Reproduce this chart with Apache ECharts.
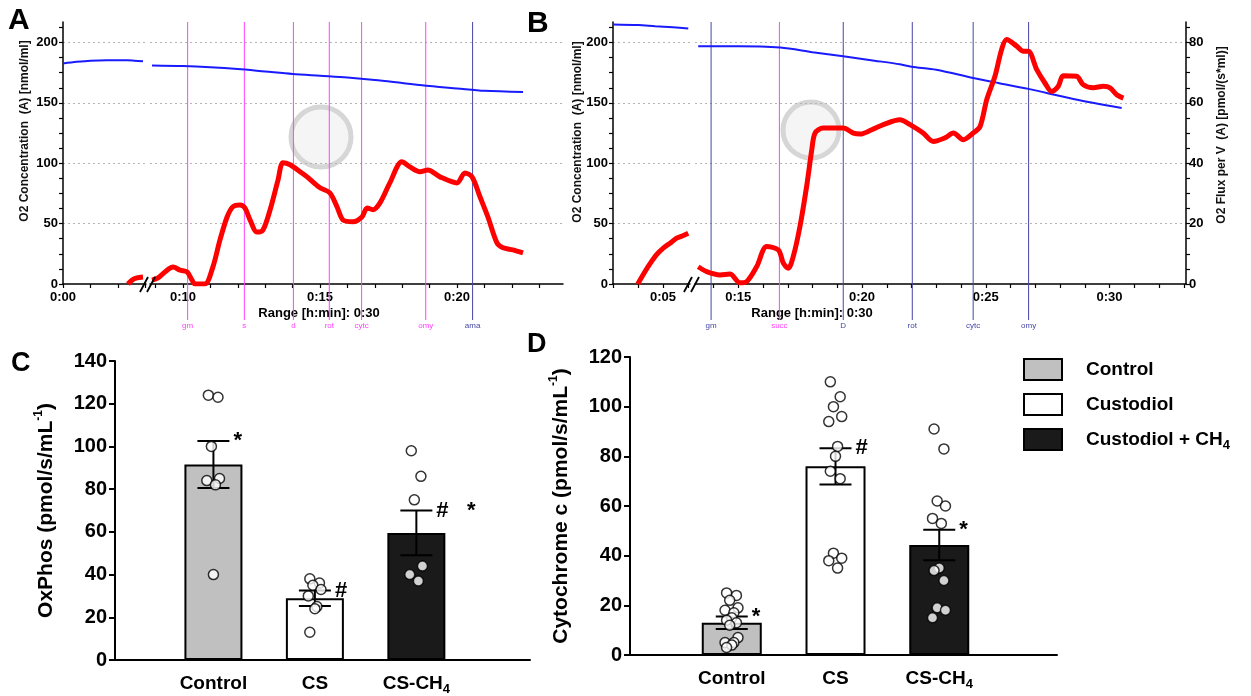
<!DOCTYPE html>
<html>
<head>
<meta charset="utf-8">
<title>OxPhos and cytochrome c</title>
<script src="https://cdn.jsdelivr.net/npm/echarts@6.0.0/dist/echarts.min.js"></script>
<style>
html, body { margin: 0; padding: 0; background: #fff; }
#main { width: 1251px; height: 696px; }
</style>
</head>
<body>
<div id="main"></div>
<script>
var FONT = '"Liberation Sans", Arial, sans-serif';

// ---- panel A: oxygraph trace (time in min) ----
var aBlueLeftT = [0, 0.5, 1.0, 1.6, 2.34, 2.6, 2.92];
var aBlueLeftV = [182.6, 184, 185, 185.3, 185.3, 185, 184.5];
var aRedLeftT = [2.37, 2.52, 2.7, 2.92];
var aRedLeftV = [0, 1.3, 2.0, 2.3];
var aBlueT = [8.87, 10, 11, 12, 13, 14, 15, 16, 17, 18, 19, 20, 21, 22.41];
var aBlueV = [181, 180.5, 179.5, 178, 176, 174, 172.5, 171, 169, 166.5, 164, 162, 160, 159];
var aRedT = [8.87, 9.09, 9.34, 9.64, 9.89, 10.15, 10.33, 10.44, 10.80, 11.09, 11.35, 11.61, 11.82, 12.08, 12.26, 12.45,
    12.70, 12.92, 13.18, 13.47, 13.65, 13.91, 14.27, 14.53, 15.00, 15.36, 15.62, 15.84, 16.20, 16.53, 16.72, 16.93,
    17.19, 17.55, 17.99, 18.28, 18.65, 18.94, 19.38, 20.00, 20.29, 20.55, 20.84, 21.13, 21.46, 21.68, 22.04, 22.41];
var aRedV = [1.3, 2.0, 4.0, 5.6, 4.6, 4.0, 1.3, 0, 0, 5.6, 14.6, 22.2, 25.6, 26.2, 25.2, 21.2,
    17.2, 17.9, 24.6, 34.5, 40.2, 39.5, 37.2, 35.5, 31.9, 30.2, 25.6, 21.2, 20.6, 22.2, 25.2, 24.6,
    26.9, 33.5, 40.5, 38.8, 37.2, 37.8, 35.5, 33.5, 36.8, 35.5, 28.9, 22.2, 13.6, 12.0, 11.3, 10.3];
var aMarkNames = ['gm', 's', 'd', 'rot', 'cytc', 'omy', 'ama'];
var aMarkTimes = [10.17, 12.24, 14.03, 15.34, 16.52, 18.86, 20.57];

// ---- panel B ----
var bBlueLeftT = [2.98, 4.0, 4.68, 5.4, 6.02];
var bBlueLeftV = [215, 214.5, 213.5, 212.6, 211.6];
var bRedLeftT = [3.98, 4.25, 4.49, 4.75, 5.01, 5.3, 5.55, 5.8, 6.02];
var bRedLeftV = [0, 3.8, 6.9, 9.8, 11.9, 13.6, 15.2, 16.0, 16.8];
var bBlueT = [13.38, 15.0, 16.7, 18.0, 19.24, 20.5, 21.53, 22.0, 23.0, 24.49, 25.5, 26.72, 28.54, 30.49];
var bBlueV = [197, 197, 195.8, 192, 188.6, 185, 182, 180, 177.5, 170.7, 166.5, 161.6, 153.3, 145.8];
var bRedT = [13.38, 13.72, 14.26, 14.66, 15.07, 15.34, 15.74, 16.15, 16.62, 16.82, 17.02, 17.22, 17.49, 17.76, 17.97,
    18.10, 18.43, 18.98, 19.24, 19.65, 19.92, 20.39, 20.86, 21.53, 21.94, 22.47, 22.88, 23.35, 23.69, 24.09,
    24.49, 24.77, 25.04, 25.37, 25.64, 25.84, 26.25, 26.52, 26.72, 27.06, 27.39, 27.66, 27.93, 28.13, 28.67,
    28.94, 29.34, 29.75, 30.02, 30.29, 30.56];
var bRedV = [5.7, 4.1, 3.0, 3.3, 0.4, 0.8, 5.7, 12.4, 11.3, 6.9, 5.2, 9.1, 19.0, 32.3, 44.5,
    50.0, 51.7, 51.7, 51.7, 50.0, 49.7, 51.1, 52.8, 54.4, 52.8, 50.0, 47.2, 48.4, 50.0, 47.8,
    50.0, 52.2, 61.1, 68.8, 77.7, 81.0, 78.8, 77.1, 77.1, 71.0, 66.6, 63.8, 65.5, 69.0, 68.8,
    66.0, 65.0, 65.5, 65.0, 62.7, 61.6];
var bMarkNames = ['gm', 'succ', 'D', 'rot', 'cytc', 'omy'];
var bMarkTimes = [13.90, 16.66, 19.24, 22.03, 24.49, 26.73];

// ---- panels C and D ----
var groupNames = ['Control', 'Custodiol', 'Custodiol + CH4'];
var barCats = ['Control', 'CS', 'CS-CH4'];
var cMeans = [91.5, 28.9, 59.5];
var cSems = [11, 3.6, 10.5];
var cSig = ['*', '#', '#   *'];
var cDotsControl = [124, 123, 100, 85, 84, 82, 40];
var cDotsCS = [38, 36, 35, 33, 30, 25, 24, 13];
var cDotsCH4 = [98, 86, 75, 44, 40, 37];
var dMeans = [13, 76, 44.3];
var dSems = [2.5, 7.3, 6.1];
var dSig = ['*', '#', '*'];
var dDotsControl = [25, 24, 22, 19, 18, 17, 15, 14, 13, 12, 7, 5, 5, 4, 3];
var dDotsCS = [110, 104, 100, 96, 94, 84, 80, 74, 71, 41, 39, 38, 35];
var dDotsCH4 = [91, 83, 62, 60, 55, 53, 35, 34, 30, 19, 18, 15];

var MAGENTA = '#ff40ff', NAVY = '#4646a8';
var aMarkColors = [MAGENTA, MAGENTA, MAGENTA, MAGENTA, MAGENTA, MAGENTA, NAVY];
var bMarkColors = [NAVY, MAGENTA, NAVY, NAVY, NAVY, NAVY];
var barColors = ['#c0c0c0', '#ffffff', '#1a1a1a'];
var jitter = [-0.05, 0.045, -0.02, 0.06, -0.065, 0.02, 0.0];

function pairs(t, v) {
    return t.map(function (x, i) { return [x, v[i]]; });
}
function seq(a, b, step) {
    var r = [];
    for (var v = a; v <= b + 1e-9; v += step) r.push(+v.toFixed(3));
    return r;
}
function fmtTime(v) {
    var m = Math.round(v);
    return '0:' + (m < 10 ? '0' + m : m);
}

function timeAxis(grid, min, max, labels, ticks) {
    return {
        type: 'value', gridIndex: grid, min: min, max: max,
        axisLine: { onZero: false, lineStyle: { color: '#000', width: 1.5 } },
        axisTick: { customValues: ticks, length: 4, lineStyle: { color: '#000', width: 1.2 } },
        axisLabel: { customValues: labels, formatter: fmtTime, color: '#000', fontWeight: 'bold', fontSize: 13, fontFamily: FONT, margin: 7 },
        splitLine: { show: false }
    };
}
// visible O2 concentration axis (ticks every 12.5, labels every 50)
function concAxis(grid) {
    return {
        type: 'value', gridIndex: grid, min: 0, max: 217, interval: 50,
        axisLine: { lineStyle: { color: '#000', width: 1.5 } },
        axisTick: { customValues: seq(0, 212.5, 12.5), length: 4, lineStyle: { color: '#000', width: 1.2 } },
        axisLabel: { customValues: [0, 50, 100, 150, 200], color: '#000', fontWeight: 'bold', fontSize: 13, fontFamily: FONT, margin: 5 },
        splitLine: { show: false }
    };
}
// bare concentration axis that only draws the dotted grid lines
function gridAxis(grid) {
    return {
        type: 'value', gridIndex: grid, min: 0, max: 217, interval: 50,
        axisLine: { show: false }, axisTick: { show: false }, axisLabel: { show: false },
        splitLine: { show: true, showMinLine: false, showMaxLine: false, lineStyle: { color: '#b4b4b4', type: [2, 3], width: 1 } }
    };
}
function fluxAxis(grid, visible) {
    return {
        type: 'value', gridIndex: grid, min: 0, max: 86.8, interval: 20, show: visible, position: 'right',
        axisLine: { show: true, lineStyle: { color: '#000', width: 1.5 } },
        axisTick: { customValues: seq(0, 85, 5), length: 4, lineStyle: { color: '#000', width: 1.2 } },
        axisLabel: { customValues: [0, 20, 40, 60, 80], color: '#000', fontWeight: 'bold', fontSize: 13, fontFamily: FONT, margin: 3 },
        splitLine: { show: false }
    };
}
function lineSeries(x, y, t, v, color, width) {
    return {
        type: 'line', xAxisIndex: x, yAxisIndex: y, data: pairs(t, v),
        showSymbol: false, symbol: 'none', smooth: 0.3, silent: true, animation: false,
        lineStyle: { color: color, width: width }, itemStyle: { color: color },
        z: width > 3 ? 3 : 2
    };
}
function markerSeries(x, y, times, names, colors) {
    return {
        type: 'custom', xAxisIndex: x, yAxisIndex: y, data: times.map(function (t) { return [t]; }),
        silent: true, animation: false, z: 1,
        renderItem: function (params, api) {
            var cs = params.coordSys;
            var px = api.coord([api.value(0), 0])[0];
            var bottom = cs.y + cs.height + 36;
            var c = colors[params.dataIndex];
            return {
                type: 'group', children: [
                    { type: 'line', shape: { x1: px, y1: cs.y, x2: px, y2: bottom }, style: { stroke: c, lineWidth: 1 } },
                    { type: 'text', x: px, y: bottom + 6, style: { text: names[params.dataIndex], fill: c, font: '8px ' + FONT, align: 'center', verticalAlign: 'middle', textAlign: 'center', textVerticalAlign: 'middle' } }
                ]
            };
        }
    };
}

function catFormatter(v) {
    var s = barCats[Math.round(v) - 1] || '';
    return s.indexOf('CH4') >= 0 ? '{n|' + s.replace('CH4', 'CH') + '}{s|4}' : '{n|' + s + '}';
}
var subRich = {
    n: { fontSize: 19, fontWeight: 'bold', fontFamily: FONT, color: '#000', lineHeight: 24 },
    s: { fontSize: 13, fontWeight: 'bold', fontFamily: FONT, color: '#000', verticalAlign: 'bottom', lineHeight: 10 }
};
var nameRich = {
    t: { fontSize: 21, fontWeight: 'bold', fontFamily: FONT, color: '#000', lineHeight: 26 },
    sup: { fontSize: 12, fontWeight: 'bold', fontFamily: FONT, color: '#000', verticalAlign: 'top', lineHeight: 12 }
};
function barXAxis(grid, min, max) {
    return {
        type: 'value', gridIndex: grid, min: min, max: max,
        axisLine: { onZero: false, lineStyle: { color: '#000', width: 2 } },
        axisTick: { show: false },
        axisLabel: { customValues: [1, 2, 3], formatter: catFormatter, margin: 12, rich: subRich },
        splitLine: { show: false }
    };
}
function barYAxis(grid, max, label) {
    return {
        type: 'value', gridIndex: grid, min: 0, max: max, interval: 20,
        name: '{t|' + label + '}{sup|-1}{t|)}', nameLocation: 'middle', nameRotate: 90, nameGap: 56,
        nameTextStyle: { rich: nameRich },
        axisLine: { show: true, lineStyle: { color: '#000', width: 2 } },
        axisTick: { show: true, length: 6, lineStyle: { color: '#000', width: 2 } },
        axisLabel: { color: '#000', fontSize: 20, fontWeight: 'bold', fontFamily: FONT, margin: 8 },
        splitLine: { show: false }
    };
}
function barSeries(x, y, means, width) {
    return means.map(function (m, i) {
        return {
            type: 'bar', name: groupNames[i], xAxisIndex: x, yAxisIndex: y, data: [[i + 1, m]],
            barWidth: width, barGap: '-100%', animation: false, z: 2,
            itemStyle: { color: barColors[i], borderColor: '#000', borderWidth: 2 }
        };
    });
}
function errorSeries(x, y, means, sems, sig) {
    return {
        type: 'custom', xAxisIndex: x, yAxisIndex: y, silent: true, animation: false, z: 3,
        data: means.map(function (m, i) { return [i + 1, m, sems[i]]; }),
        renderItem: function (params, api) {
            var cx = api.value(0), m = api.value(1), s = api.value(2);
            var hi = api.coord([cx, m + s]), lo = api.coord([cx, m - s]);
            var hw = 16, st = { stroke: '#000', lineWidth: 2 };
            return {
                type: 'group', children: [
                    { type: 'line', shape: { x1: hi[0], y1: hi[1], x2: lo[0], y2: lo[1] }, style: st },
                    { type: 'line', shape: { x1: hi[0] - hw, y1: hi[1], x2: hi[0] + hw, y2: hi[1] }, style: st },
                    { type: 'line', shape: { x1: lo[0] - hw, y1: lo[1], x2: lo[0] + hw, y2: lo[1] }, style: st },
                    { type: 'text', x: hi[0] + hw + 4, y: hi[1], style: { text: sig[params.dataIndex], fill: '#000', font: 'bold 22px ' + FONT, align: 'left', verticalAlign: 'middle', textAlign: 'left', textVerticalAlign: 'middle' } }
                ]
            };
        }
    };
}
function dotSeries(x, y, groups) {
    var data = [];
    groups.forEach(function (vals, g) {
        vals.forEach(function (v, j) { data.push([g + 1 + jitter[j % jitter.length], v]); });
    });
    return {
        type: 'scatter', xAxisIndex: x, yAxisIndex: y, data: data, symbol: 'circle', symbolSize: 10,
        silent: true, animation: false, z: 4,
        itemStyle: { color: '#fff', borderColor: '#000', borderWidth: 1.5 }
    };
}
function vText(x, y, text) {
    return { type: 'text', x: x, y: y, rotation: Math.PI / 2, style: { text: text, fill: '#111', font: 'bold 12px ' + FONT, align: 'center', verticalAlign: 'middle', textAlign: 'center', textVerticalAlign: 'middle' } };
}
function hText(x, y, text, font, align) {
    return { type: 'text', x: x, y: y, style: { text: text, fill: '#000', font: font, align: align, verticalAlign: 'middle', textAlign: align, textVerticalAlign: 'middle' } };
}
function slash(x) {
    return { type: 'line', shape: { x1: x - 4, y1: 292, x2: x + 4, y2: 277 }, style: { stroke: '#000', lineWidth: 1.8 }, z: 10 };
}
function ring(cx, cy, r) {
    return { type: 'circle', shape: { cx: cx, cy: cy, r: r }, style: { fill: 'rgba(225,225,225,0.35)', stroke: '#d6d6d6', lineWidth: 5 }, z: 0 };
}

var myChart = echarts.init(document.getElementById('main'));
var option = {
    backgroundColor: '#fff',
    animation: false,
    grid: [
        { left: 63, top: 22, width: 83, height: 262 },   // A, before break
        { left: 150, top: 22, width: 413, height: 262 }, // A, after break
        { left: 613, top: 22, width: 77, height: 262 },  // B, before break
        { left: 695, top: 22, width: 491, height: 262 }, // B, after break
        { left: 115, top: 361, width: 415, height: 299 }, // C
        { left: 630, top: 357, width: 427, height: 298 }  // D
    ],
    xAxis: [
        timeAxis(0, 0, 3.03, [0], [0, 1, 2, 3]),
        timeAxis(1, 8.796, 23.87, [10, 15, 20], seq(9, 23, 1)),
        timeAxis(2, 2.98, 6.09, [5], [3, 4, 5, 6]),
        timeAxis(3, 13.25, 33.09, [15, 20, 25, 30], seq(14, 33, 1)),
        barXAxis(4, 0.03, 4.12),
        barXAxis(5, 0.019, 4.135)
    ],
    yAxis: [
        concAxis(0), fluxAxis(0, false),
        gridAxis(1), fluxAxis(1, false),
        concAxis(2), fluxAxis(2, false),
        gridAxis(3), fluxAxis(3, true),
        barYAxis(4, 140, 'OxPhos (pmol/s/mL'),
        barYAxis(5, 120, 'Cytochrome c (pmol/s/mL'),
        gridAxis(0), gridAxis(2)
    ],
    legend: {
        data: groupNames, orient: 'vertical', left: 1023, top: 358, padding: 0,
        itemWidth: 38, itemHeight: 21, itemGap: 12, icon: 'rect', selectedMode: false,
        itemStyle: { borderColor: '#000', borderWidth: 2 },
        textStyle: { padding: [0, 0, 0, 19], rich: subRich },
        formatter: function (n) {
            return n.indexOf('CH4') >= 0 ? '{n|' + n.replace('CH4', 'CH') + '}{s|4}' : '{n|' + n + '}';
        }
    },
    graphic: [
        ring(321, 137, 30), ring(811, 130, 28),
        hText(8, 21, 'A', 'bold 30px ' + FONT, 'left'),
        hText(527, 24, 'B', 'bold 30px ' + FONT, 'left'),
        hText(11, 364, 'C', 'bold 27px ' + FONT, 'left'),
        hText(527, 345, 'D', 'bold 27px ' + FONT, 'left'),
        vText(25, 131, 'O2 Concentration  (A) [nmol/ml]'),
        vText(578, 132, 'O2 Concentration  (A) [nmol/ml]'),
        vText(1222, 135, 'O2 Flux per V  (A) [pmol/(s*ml)]'),
        hText(319, 313, 'Range [h:min]: 0:30', 'bold 13px ' + FONT, 'center'),
        hText(812, 313, 'Range [h:min]: 0:30', 'bold 13px ' + FONT, 'center'),
        slash(144), slash(151), slash(688), slash(695)
    ],
    series: [
        lineSeries(0, 0, aBlueLeftT, aBlueLeftV, '#1a1aff', 2),
        lineSeries(0, 1, aRedLeftT, aRedLeftV, '#ff0000', 5),
        lineSeries(1, 2, aBlueT, aBlueV, '#1a1aff', 2),
        lineSeries(1, 3, aRedT, aRedV, '#ff0000', 5),
        markerSeries(1, 2, aMarkTimes, aMarkNames, aMarkColors),
        lineSeries(2, 4, bBlueLeftT, bBlueLeftV, '#1a1aff', 2),
        lineSeries(2, 5, bRedLeftT, bRedLeftV, '#ff0000', 5),
        lineSeries(3, 6, bBlueT, bBlueV, '#1a1aff', 2),
        lineSeries(3, 7, bRedT, bRedV, '#ff0000', 5),
        markerSeries(3, 6, bMarkTimes, bMarkNames, bMarkColors)
    ].concat(
        barSeries(4, 8, cMeans, 58),
        [errorSeries(4, 8, cMeans, cSems, cSig), dotSeries(4, 8, [cDotsControl, cDotsCS, cDotsCH4])],
        barSeries(5, 9, dMeans, 60),
        [errorSeries(5, 9, dMeans, dSems, dSig), dotSeries(5, 9, [dDotsControl, dDotsCS, dDotsCH4])]
    )
};
myChart.setOption(option);
</script>
</body>
</html>
